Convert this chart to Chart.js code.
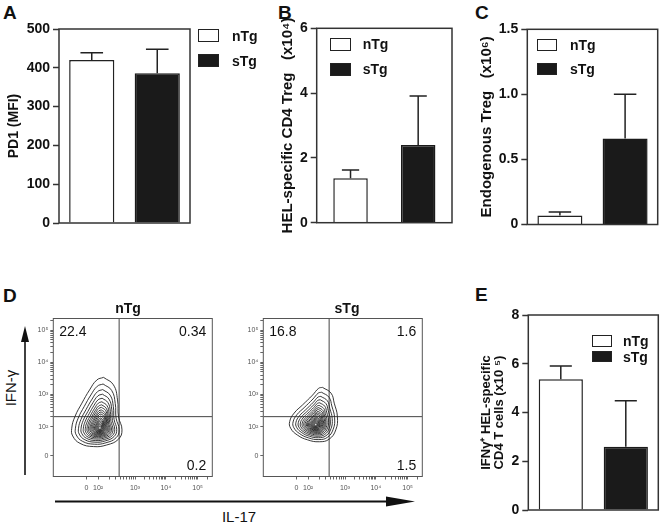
<!DOCTYPE html>
<html>
<head>
<meta charset="utf-8">
<script src="https://cdn.jsdelivr.net/npm/chart.js@4.4.1/dist/chart.umd.min.js"></script>
<style>
  body { margin: 0; width: 660px; height: 522px; background: #fff; position: relative; overflow: hidden;
         font-family: "Liberation Sans", Arial, sans-serif; color: #111; }
  .box { position: absolute; }
  .letter { position: absolute; font-weight: bold; font-size: 19px; line-height: 19px; }
  .txt { position: absolute; white-space: nowrap; line-height: 14px; }
  .swatch { position: absolute; box-sizing: border-box; border: 1.5px solid #222; }
</style>
</head>
<body>
<div class="letter" style="left:3px;top:2.5px">A</div>
<div class="letter" style="left:278px;top:2.5px">B</div>
<div class="letter" style="left:475px;top:2.5px">C</div>
<div class="letter" style="left:3px;top:285.5px">D</div>
<div class="letter" style="left:475px;top:284.5px">E</div>

<div class="box" style="left:0;top:0;width:195px;height:240px"><canvas id="chartA"></canvas></div>
<div class="box" style="left:265px;top:0;width:192px;height:240px"><canvas id="chartB"></canvas></div>
<div class="box" style="left:470px;top:0;width:190px;height:240px"><canvas id="chartC"></canvas></div>
<div class="box" style="left:460px;top:290px;width:200px;height:232px"><canvas id="chartE"></canvas></div>
<div class="box" style="left:28px;top:300px;width:192px;height:200px"><canvas id="flowN"></canvas></div>
<div class="box" style="left:238px;top:300px;width:192px;height:200px"><canvas id="flowS"></canvas></div>

<div id="legends"></div>

<div class="txt" style="left:128px;top:301px;transform:translateX(-50%);font-weight:bold;font-size:14px" id="titleN"></div>
<div class="txt" style="left:347px;top:301px;transform:translateX(-50%);font-weight:bold;font-size:14px" id="titleS"></div>
<div class="txt" style="left:11px;top:388px;font-size:15px;transform:translate(-50%,-50%) rotate(-90deg)">IFN-γ</div>
<div class="txt" style="left:239px;top:517px;font-size:15px;transform:translate(-50%,-50%)">IL-17</div>

<svg style="position:absolute;left:0;top:0" width="660" height="522">
  <line x1="25" y1="475" x2="25" y2="338" stroke="#111" stroke-width="1.6"/>
  <polygon points="25,326 21,342 29,342" fill="#111"/>
  <line x1="55" y1="501.5" x2="390" y2="501.5" stroke="#111" stroke-width="2"/>
  <polygon points="415,501.5 386,496.5 386,506.5" fill="#111"/>
</svg>

<script>
// groups and values
const groups = ['nTg', 'sTg'];
const pd1Mean = [420, 386];
const pd1Err = [19, 62];
const helTregMean = [1.37, 2.40];
const helTregErr = [0.26, 1.51];
const endoTregMean = [0.069, 0.66];
const endoTregErr = [0.028, 0.34];
const ifngMean = [5.36, 2.60];
const ifngErr = [0.55, 1.88];

// flow plots (axis units: decades on a biexponential display)
const flowTickLabels = ['0', '10²', '10³', '10⁴', '10⁵'];
const flowXTicks = [1.04, 1.41, 2.57, 3.54, 4.54];
const flowYTicks = [1.10, 2, 3, 4, 5];
const gateX = 2.07;
const gateY = 2.31;
const quadNTg = ['22.4', '0.34', '0.2'];
const quadSTg = ['16.8', '1.6', '1.5'];
const contourNTg = [[1.58,3.53],[1.89,3.30],[2.02,2.83],[2.05,2.31],[2.16,1.90],[2.05,1.61],[1.68,1.43],
                    [1.26,1.38],[0.84,1.48],[0.61,1.71],[0.58,1.95],[0.68,2.31],[0.90,2.73],[1.14,3.14],[1.37,3.45]];
const peakNTg = [1.47, 1.95];
const contourSTg = [[1.86,3.22],[2.13,3.04],[2.23,2.73],[2.33,2.31],[2.28,1.90],[2.07,1.61],[1.76,1.53],
                    [1.39,1.59],[1.07,1.74],[0.86,1.95],[0.83,2.16],[0.97,2.42],[1.23,2.67],[1.55,2.98],[1.74,3.19]];
const peakSTg = [1.65, 2.05];
const ringScales = [1, 0.87, 0.76, 0.67, 0.59, 0.52, 0.46, 0.41, 0.36, 0.32, 0.28, 0.24, 0.20, 0.17, 0.14, 0.11, 0.08, 0.05];

Chart.defaults.font.family = '"Liberation Sans", Arial, sans-serif';
Chart.defaults.color = '#111';

const frameBox = {
  id: 'frameBox',
  afterDraw(chart, args, opts) {
    const a = chart.chartArea, ctx = chart.ctx;
    ctx.save();
    ctx.strokeStyle = opts.color || '#333';
    ctx.lineWidth = opts.width || 1.5;
    ctx.strokeRect(a.left, a.top, a.right - a.left, a.bottom - a.top);
    ctx.restore();
  }
};

const errorBars = {
  id: 'errorBars',
  afterDatasetsDraw(chart) {
    const ctx = chart.ctx, y = chart.scales.y;
    const ds = chart.data.datasets[0];
    ctx.save();
    ctx.strokeStyle = '#222';
    ctx.lineWidth = 1.5;
    chart.getDatasetMeta(0).data.forEach((bar, i) => {
      const top = y.getPixelForValue(ds.data[i] + ds.errors[i]);
      const cap = bar.width * 0.25;
      ctx.beginPath();
      ctx.moveTo(bar.x, bar.y);
      ctx.lineTo(bar.x, top);
      ctx.moveTo(bar.x - cap, top);
      ctx.lineTo(bar.x + cap, top);
      ctx.stroke();
    });
    ctx.restore();
  }
};

function barChart(id, means, errs, yMax, step, title, cfg) {
  return new Chart(document.getElementById(id), {
    type: 'bar',
    data: {
      labels: groups,
      datasets: [{
        data: means,
        errors: errs,
        backgroundColor: ['#ffffff', '#1a1a1a'],
        borderColor: ['#222', '#1a1a1a'],
        borderWidth: 1.5,
        borderSkipped: 'bottom',
        barPercentage: cfg.barPct,
        categoryPercentage: 1
      }]
    },
    options: {
      responsive: true,
      maintainAspectRatio: false,
      animation: false,
      layout: { padding: cfg.pad },
      plugins: { legend: { display: false }, tooltip: { enabled: false } },
      scales: {
        x: { display: false },
        y: {
          min: 0, max: yMax,
          ticks: { stepSize: step, padding: 3, color: '#111', font: { size: 14, weight: 'bold' },
                   callback: cfg.fmt || (v => v) },
          grid: { drawOnChartArea: false, tickLength: 6, tickWidth: 1.5, tickColor: '#333' },
          border: { display: false },
          title: { display: true, text: title, color: '#111',
                   font: { size: cfg.titleSize || 14, weight: 'bold', lineHeight: cfg.titleLH || 1.2 },
                   padding: { top: cfg.titlePad, bottom: 0 } },
          afterFit: s => { s.width = cfg.axisW; }
        }
      }
    },
    plugins: [errorBars, frameBox]
  });
}

barChart('chartA', pd1Mean, pd1Err, 500, 100, 'PD1 (MFI)',
  { barPct: 0.69, pad: { top: 29, right: 5, bottom: 17, left: 0 }, axisW: 59, titlePad: 5.6 });
barChart('chartB', helTregMean, helTregErr, 6, 2, 'HEL-specific CD4 Treg   (x10⁴)',
  { barPct: 0.51, pad: { top: 28.3, right: 5, bottom: 17.3, left: 0 }, axisW: 51.7, titlePad: 14,
    titleSize: 15 });
barChart('chartC', endoTregMean, endoTregErr, 1.5, 0.5, 'Endogenous Treg   (x10⁶)',
  { barPct: 0.69, pad: { top: 29.3, right: 2.3, bottom: 15.5, left: 0 }, axisW: 57.3, titlePad: 7.7,
    titleSize: 15, fmt: v => v === 0 ? '0' : v.toFixed(1) });
barChart('chartE', ifngMean, ifngErr, 8, 2, ['IFNγ⁺ HEL-specific', 'CD4 T cells (x10 ⁵)'],
  { barPct: 0.68, pad: { top: 25, right: 1.7, bottom: 12, left: 0 }, axisW: 68.3, titlePad: 20.2,
    titleSize: 13, titleLH: 1.0 });

// legends
const legendSpots = [
  { x: 198, y: [29, 54], h: 13, tx: 232, ty: [36, 61] },
  { x: 330, y: [38, 63], h: 12.5, tx: 362.7, ty: [44, 69] },
  { x: 536.7, y: [39.3, 63], h: 12, tx: 570, ty: [45, 69] },
  { x: 591.7, y: [335, 350.7], h: 11.5, tx: 623, ty: [341, 356.7] }
];
const fills = ['#ffffff', '#1a1a1a'];
const legendHost = document.getElementById('legends');
legendSpots.forEach(sp => {
  groups.forEach((g, i) => {
    const sw = document.createElement('div');
    sw.className = 'swatch';
    sw.style.cssText = `left:${sp.x}px;top:${sp.y[i]}px;width:20.5px;height:${sp.h}px;background:${fills[i]}`;
    legendHost.appendChild(sw);
    const t = document.createElement('div');
    t.className = 'txt';
    t.style.cssText = `left:${sp.tx}px;top:${sp.ty[i] - 7}px;font-size:14px;font-weight:bold`;
    t.textContent = g;
    legendHost.appendChild(t);
  });
});
document.getElementById('titleN').textContent = groups[0];
document.getElementById('titleS').textContent = groups[1];

// flow minor ticks between decades
function minorTicks(majors, top) {
  const out = majors.slice();
  for (let j = 1; j < majors.length - 1; j++) {
    const a = majors[j], b = majors[j + 1];
    for (let k = 2; k < 10; k++) out.push(a + (b - a) * Math.log10(k));
  }
  const last = majors[majors.length - 1], span = last - majors[majors.length - 2];
  for (let k = 2; k < 10; k++) {
    const v = last + span * Math.log10(k);
    if (v < top) out.push(v);
  }
  return out.sort((p, q) => p - q);
}

const quadLabels = {
  id: 'quadLabels',
  afterDraw(chart, args, opts) {
    const a = chart.chartArea, ctx = chart.ctx;
    ctx.save();
    ctx.font = '14px "Liberation Sans", Arial, sans-serif';
    ctx.fillStyle = '#111';
    ctx.textBaseline = 'middle';
    ctx.textAlign = 'left';
    ctx.fillText(opts.text[0], a.left + 6, a.top + 14);
    ctx.textAlign = 'right';
    ctx.fillText(opts.text[1], a.right - 6, a.top + 14);
    ctx.fillText(opts.text[2], a.right - 6, a.bottom - 10);
    ctx.restore();
  }
};

function flowChart(id, contour, peak, quads) {
  const xMin = 0, xMax = 5.0, yMin = 0.45, yMax = 5.36;
  const rings = ringScales.map(s => ({
    data: contour.concat([contour[0]]).map(([x, y]) => ({ x: peak[0] + (x - peak[0]) * s, y: peak[1] + (y - peak[1]) * s })),
    showLine: true, tension: 0.45, borderColor: '#222', borderWidth: 0.9, pointRadius: 0
  }));
  const gates = [
    { data: [{ x: gateX, y: yMin }, { x: gateX, y: yMax }], showLine: true, borderColor: '#444', borderWidth: 1, pointRadius: 0 },
    { data: [{ x: xMin, y: gateY }, { x: xMax, y: gateY }], showLine: true, borderColor: '#444', borderWidth: 1, pointRadius: 0 }
  ];
  const xAll = minorTicks(flowXTicks, xMax);
  const yAll = minorTicks(flowYTicks, yMax);
  const lab = majors => v => {
    const i = majors.findIndex(m => Math.abs(m - v) < 1e-6);
    return i >= 0 ? flowTickLabels[i] : '';
  };
  return new Chart(document.getElementById(id), {
    type: 'scatter',
    data: { datasets: rings.concat(gates) },
    options: {
      responsive: true,
      maintainAspectRatio: false,
      animation: false,
      layout: { padding: { top: 18.5, right: 7.7, bottom: 3.5, left: 0 } },
      plugins: { legend: { display: false }, tooltip: { enabled: false }, quadLabels: { text: quads },
                 frameBox: { color: '#555', width: 1 } },
      scales: {
        x: {
          type: 'linear', min: xMin, max: xMax,
          afterBuildTicks: s => { s.ticks = xAll.map(v => ({ value: v })); },
          ticks: { autoSkip: false, maxRotation: 0, padding: 4, color: '#555', font: { size: 7 }, callback: lab(flowXTicks) },
          grid: { drawOnChartArea: false, tickLength: 3, tickColor: '#666' },
          border: { display: false },
          afterFit: s => { s.height = 20; }
        },
        y: {
          type: 'linear', min: yMin, max: yMax,
          afterBuildTicks: s => { s.ticks = yAll.map(v => ({ value: v })); },
          ticks: { autoSkip: false, padding: 2, color: '#555', font: { size: 7 }, callback: lab(flowYTicks) },
          grid: { drawOnChartArea: false, tickLength: 3, tickColor: '#666' },
          border: { display: false },
          afterFit: s => { s.width = 25.3; }
        }
      }
    },
    plugins: [frameBox, quadLabels]
  });
}

flowChart('flowN', contourNTg, peakNTg, quadNTg);
flowChart('flowS', contourSTg, peakSTg, quadSTg);
</script>
</body>
</html>
